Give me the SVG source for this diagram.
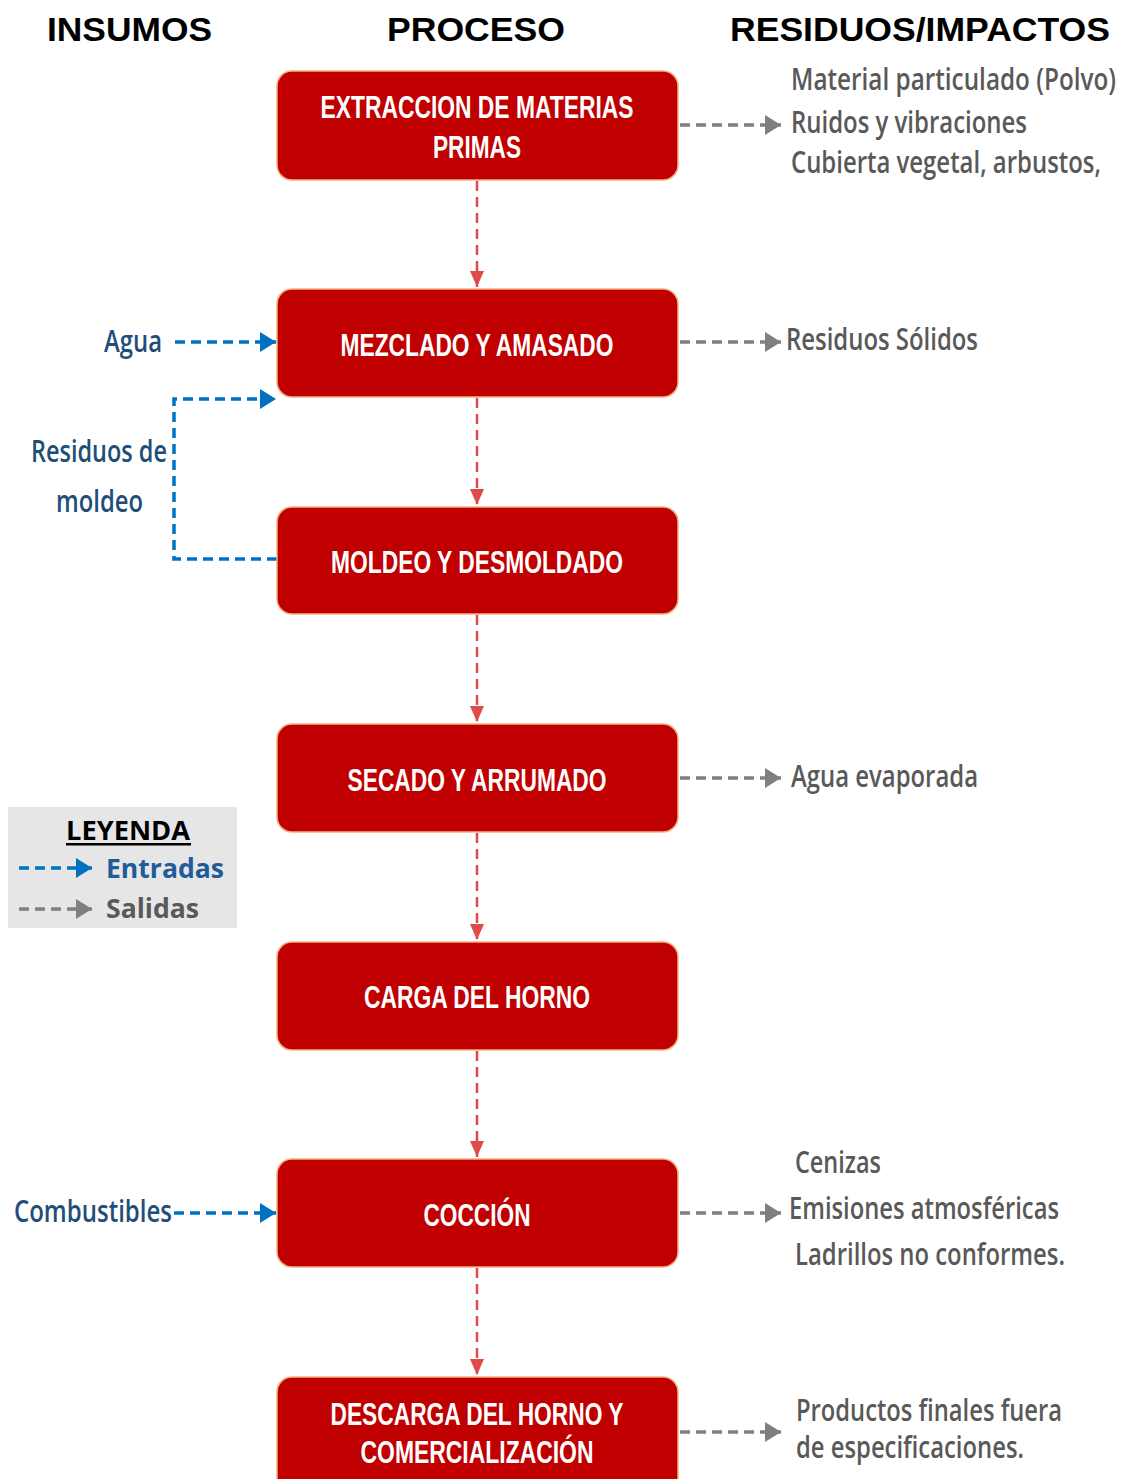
<svg xmlns="http://www.w3.org/2000/svg" width="1126" height="1479" viewBox="0 0 1126 1479">
<style>
.hdr{font-family:"Liberation Sans",Arial,sans-serif;font-weight:bold;font-size:34px;fill:#000}
.box{fill:#C00000;stroke:#F4B183;stroke-width:1.5}
.bt{font-family:"Liberation Sans",Arial,sans-serif;font-weight:bold;font-size:32px;fill:#fff;text-anchor:middle}
.rt{font-family:"Open Sans","Noto Sans",sans-serif;font-size:30px;font-weight:600;fill:#595959}
.lt{font-family:"Open Sans","Noto Sans",sans-serif;font-size:30px;font-weight:600;fill:#1F4E79}
.gray{stroke:#7F7F7F;stroke-width:3.5;stroke-dasharray:10 6;fill:none}
.blue{stroke:#0070C0;stroke-width:3.5;stroke-dasharray:10 6;fill:none}
.red{stroke:#E04A4A;stroke-width:2.5;stroke-dasharray:10 6;fill:none}
.lg{font-family:"Open Sans","Noto Sans",sans-serif;font-weight:bold;font-size:26px}
</style>
<defs>
<marker id="ag" markerUnits="userSpaceOnUse" markerWidth="16" markerHeight="20" refX="16" refY="10" orient="auto"><path d="M0,0 L16,10 L0,20 Z" fill="#7F7F7F"/></marker>
<marker id="ab" markerUnits="userSpaceOnUse" markerWidth="16" markerHeight="20" refX="16" refY="10" orient="auto"><path d="M0,0 L16,10 L0,20 Z" fill="#0070C0"/></marker>
<marker id="ar" markerUnits="userSpaceOnUse" markerWidth="16" markerHeight="14" refX="16" refY="7" orient="auto"><path d="M0,0 L16,7 L0,14 Z" fill="#E04A4A"/></marker>
</defs>
<rect width="1126" height="1479" fill="#fff"/>
<g id="headers">
<text class="hdr" x="47" y="41" textLength="165" lengthAdjust="spacingAndGlyphs">INSUMOS</text>
<text class="hdr" x="387" y="41" textLength="178" lengthAdjust="spacingAndGlyphs">PROCESO</text>
<text class="hdr" x="730" y="41" textLength="380" lengthAdjust="spacingAndGlyphs">RESIDUOS/IMPACTOS</text>
</g>
<g id="connectors">
<path class="red" d="M477,181 V287" marker-end="url(#ar)"/>
<path class="red" d="M477,398 V505" marker-end="url(#ar)"/>
<path class="red" d="M477,615 V722" marker-end="url(#ar)"/>
<path class="red" d="M477,833 V940" marker-end="url(#ar)"/>
<path class="red" d="M477,1051 V1157" marker-end="url(#ar)"/>
<path class="red" d="M477,1268 V1375" marker-end="url(#ar)"/>
<path class="gray" d="M680,125 H781" marker-end="url(#ag)"/>
<path class="gray" d="M680,342 H781" marker-end="url(#ag)"/>
<path class="gray" d="M680,778 H781" marker-end="url(#ag)"/>
<path class="gray" d="M680,1213 H781" marker-end="url(#ag)"/>
<path class="gray" d="M680,1432 H781" marker-end="url(#ag)"/>
<path class="blue" d="M175,342 H276" marker-end="url(#ab)"/>
<path class="blue" d="M277,559 H174 V399 H276" marker-end="url(#ab)"/>
<path class="blue" d="M174,1213 H276" marker-end="url(#ab)"/>
</g>
<g id="n1"><rect class="box" x="277" y="71" width="401" height="109" rx="15"/>
<text class="bt" x="477" y="118" textLength="313" lengthAdjust="spacingAndGlyphs">EXTRACCION DE MATERIAS</text>
<text class="bt" x="477" y="158" textLength="88" lengthAdjust="spacingAndGlyphs">PRIMAS</text></g>
<g id="n2"><rect class="box" x="277" y="289" width="401" height="108" rx="15"/>
<text class="bt" x="477" y="356" textLength="273" lengthAdjust="spacingAndGlyphs">MEZCLADO Y AMASADO</text></g>
<g id="n3"><rect class="box" x="277" y="507" width="401" height="107" rx="15"/>
<text class="bt" x="477" y="573" textLength="292" lengthAdjust="spacingAndGlyphs">MOLDEO Y DESMOLDADO</text></g>
<g id="n4"><rect class="box" x="277" y="724" width="401" height="108" rx="15"/>
<text class="bt" x="477" y="791" textLength="259" lengthAdjust="spacingAndGlyphs">SECADO Y ARRUMADO</text></g>
<g id="n5"><rect class="box" x="277" y="942" width="401" height="108" rx="15"/>
<text class="bt" x="477" y="1008" textLength="226" lengthAdjust="spacingAndGlyphs">CARGA DEL HORNO</text></g>
<g id="n6"><rect class="box" x="277" y="1159" width="401" height="108" rx="15"/>
<text class="bt" x="477" y="1226" textLength="107" lengthAdjust="spacingAndGlyphs">COCCIÓN</text></g>
<g id="n7"><rect class="box" x="277" y="1377" width="401" height="120" rx="15"/>
<text class="bt" x="477" y="1425" textLength="293" lengthAdjust="spacingAndGlyphs">DESCARGA DEL HORNO Y</text>
<text class="bt" x="477" y="1463" textLength="233" lengthAdjust="spacingAndGlyphs">COMERCIALIZACIÓN</text></g>
<g id="out1">
<text class="rt" x="791" y="90" textLength="325" lengthAdjust="spacingAndGlyphs">Material particulado (Polvo)</text>
<text class="rt" x="791" y="133" textLength="236" lengthAdjust="spacingAndGlyphs">Ruidos y vibraciones</text>
<text class="rt" x="791" y="173" textLength="310" lengthAdjust="spacingAndGlyphs">Cubierta vegetal, arbustos,</text></g>
<g id="out2"><text class="rt" x="786" y="350" textLength="192" lengthAdjust="spacingAndGlyphs">Residuos Sólidos</text></g>
<g id="out4"><text class="rt" x="791" y="787" textLength="187" lengthAdjust="spacingAndGlyphs">Agua evaporada</text></g>
<g id="out6">
<text class="rt" x="795" y="1173" textLength="86" lengthAdjust="spacingAndGlyphs">Cenizas</text>
<text class="rt" x="789" y="1219" textLength="270" lengthAdjust="spacingAndGlyphs">Emisiones atmosféricas</text>
<text class="rt" x="795" y="1265" textLength="270" lengthAdjust="spacingAndGlyphs">Ladrillos no conformes.</text></g>
<g id="out7">
<text class="rt" x="796" y="1421" font-size="29" textLength="266" lengthAdjust="spacingAndGlyphs">Productos finales fuera</text>
<text class="rt" x="796" y="1458" font-size="29" textLength="228" lengthAdjust="spacingAndGlyphs">de especificaciones.</text></g>
<g id="in-agua"><text class="lt" x="104" y="352" textLength="58" lengthAdjust="spacingAndGlyphs">Agua</text></g>
<g id="in-residuos">
<text class="lt" x="31" y="462" textLength="136" lengthAdjust="spacingAndGlyphs">Residuos de</text>
<text class="lt" x="56" y="512" textLength="87" lengthAdjust="spacingAndGlyphs">moldeo</text></g>
<g id="in-comb"><text class="lt" x="14" y="1222" textLength="158" lengthAdjust="spacingAndGlyphs">Combustibles</text></g>
<g id="legend">
<rect x="8" y="807" width="229" height="121" fill="#E6E6E6"/>
<text class="lg" x="128" y="840" text-anchor="middle" fill="#000" textLength="124" lengthAdjust="spacingAndGlyphs">LEYENDA</text>
<rect x="66" y="843" width="125" height="2.5" fill="#000"/>
<path class="blue" d="M19,868 H92" stroke-width="3" stroke-dasharray="8 5" marker-end="url(#ab)"/>
<text class="lg" x="106" y="878" fill="#1F5C99" textLength="118" lengthAdjust="spacingAndGlyphs">Entradas</text>
<path class="gray" d="M19,909 H92" stroke-width="3" stroke-dasharray="8 5" marker-end="url(#ag)"/>
<text class="lg" x="106" y="918" fill="#595959" textLength="93" lengthAdjust="spacingAndGlyphs">Salidas</text>
</g>
</svg>
